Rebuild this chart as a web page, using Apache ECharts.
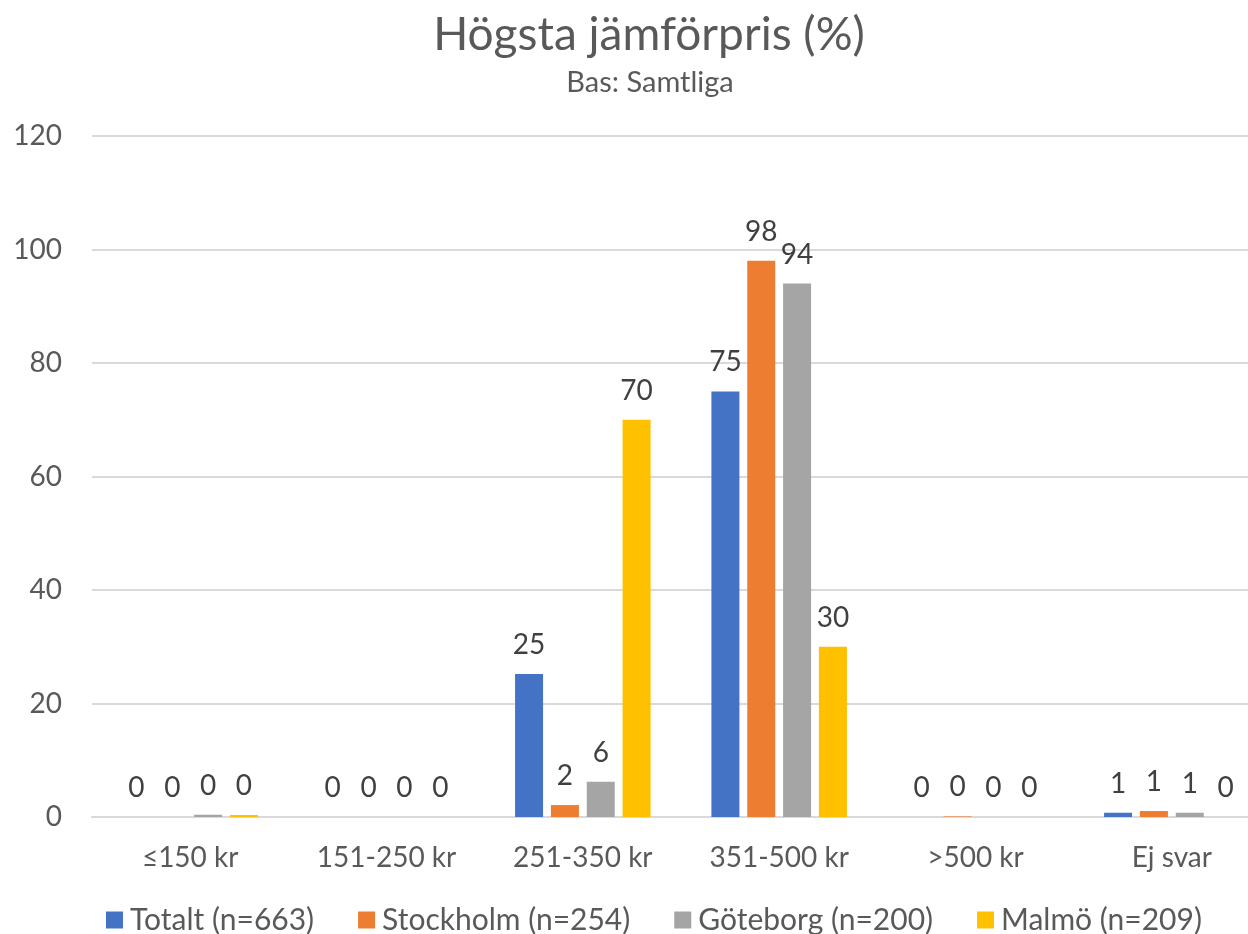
<!DOCTYPE html>
<html>
<head>
<meta charset="utf-8">
<script src="https://cdn.jsdelivr.net/npm/echarts@6/dist/echarts.min.js"></script>
<style>
html,body{margin:0;padding:0;background:#fff;}
#main{width:1248px;height:934px;}
</style>
</head>
<body>
<div id="main"></div>
<script>
const categories = ['≤150 kr', '151-250 kr', '251-350 kr', '351-500 kr', '>500 kr', 'Ej svar'];
const seriesNames = ['Totalt (n=663)', 'Stockholm (n=254)', 'Göteborg (n=200)', 'Malmö (n=209)'];
const totalt = [0, 0, 25.2, 75, 0, 0.75];
const stockholm = [0, 0, 2.1, 98, 0.1, 1.05];
const goteborg = [0.4, 0, 6.2, 94, 0, 0.75];
const malmo = [0.35, 0, 70, 30, 0, 0];
const yTicks = [0, 20, 40, 60, 80, 100, 120];
const colors = ['#4472C4', '#ED7D31', '#A5A5A5', '#FFC000'];

const FONT = 'Lato';
const chart = echarts.init(document.getElementById('main'), null, {renderer: 'canvas'});
const allData = [totalt, stockholm, goteborg, malmo];

const option = {
  animation: false,
  textStyle: {fontFamily: FONT},
  title: [
    {text: 'Högsta jämförpris (%)', left: 644, top: 7, textAlign: 'center',
     textStyle: {fontFamily: FONT, fontSize: 46, fontWeight: 'normal', color: '#595959'}},
    {text: 'Bas: Samtliga', left: 645, top: 63, textAlign: 'center',
     textStyle: {fontFamily: FONT, fontSize: 29, fontWeight: 'normal', color: '#595959'}}
  ],
  legend: {
    left: 101, top: 900,
    padding: 5,
    itemWidth: 17, itemHeight: 17, itemGap: 44,
    icon: 'rect',
    textStyle: {fontFamily: FONT, fontSize: 30, color: '#595959', padding: [0, 0, 0, 2]},
    data: seriesNames
  },
  grid: {left: 92, top: 136, width: 1178, height: 681, containLabel: false, outerBoundsMode: 'none'},
  xAxis: {
    type: 'category',
    data: categories,
    axisLine: {show: true, lineStyle: {color: '#D9D9D9', width: 2}},
    axisTick: {show: false},
    axisLabel: {fontFamily: FONT, fontSize: 28, color: '#595959', margin: 27}
  },
  yAxis: {
    type: 'value',
    min: yTicks[0], max: yTicks[yTicks.length - 1], interval: 20,
    axisLine: {show: false},
    axisTick: {show: false},
    splitLine: {lineStyle: {color: '#D9D9D9', width: 2}},
    axisLabel: {fontFamily: FONT, fontSize: 28, color: '#595959', margin: 30}
  },
  series: seriesNames.map((name, i) => ({
    name: name,
    type: 'bar',
    data: allData[i],
    barWidth: 28,
    barGap: '28%',
    itemStyle: {color: colors[i]},
    label: {
      show: true, position: 'top', distance: 15,
      fontFamily: FONT, fontSize: 28, color: '#404040',
      formatter: p => String(Math.round(p.value))
    }
  }))
};
chart.setOption(option);
</script>
</body>
</html>
